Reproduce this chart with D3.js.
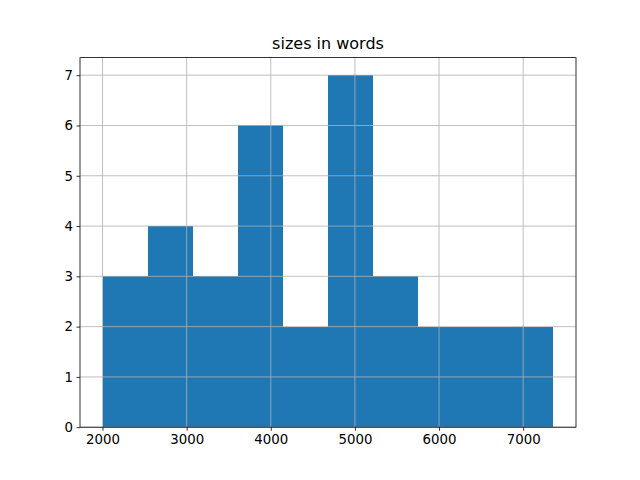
<!DOCTYPE html>
<html>
<head>
<meta charset="utf-8">
<script src="https://cdn.jsdelivr.net/npm/d3@7"></script>
<style>
  body { margin: 0; background: #fff; }
  text { font-family: "DejaVu Sans", sans-serif; fill: #000; }
</style>
</head>
<body>
<div id="chart"></div>
<script>
// histogram data (10 bins)
const dataMin = 2000;
const dataMax = 7360;
const binCounts = [3, 4, 3, 6, 2, 7, 3, 2, 2, 2];
const xTicks = [2000, 3000, 4000, 5000, 6000, 7000];
const yTicks = [0, 1, 2, 3, 4, 5, 6, 7];
const chartTitle = "sizes in words";

const svgWidth = 640;
const svgHeight = 480;
const margin = { top: 57.6, right: 64, bottom: 52.8, left: 80 };
const width = svgWidth - margin.left - margin.right;
const height = svgHeight - margin.top - margin.bottom;

const binWidth = (dataMax - dataMin) / binCounts.length;
const bins = binCounts.map((c, i) => ({
  x0: dataMin + i * binWidth,
  x1: dataMin + (i + 1) * binWidth,
  count: c
}));

const svg = d3.select("#chart")
  .append("svg")
  .attr("width", svgWidth)
  .attr("height", svgHeight);

const chartGroup = svg.append("g")
  .attr("transform", `translate(${margin.left}, ${margin.top})`);

// scales with matplotlib-like 5% margins
const pad = (dataMax - dataMin) * 0.05;
const xScale = d3.scaleLinear()
  .domain([dataMin - pad, dataMax + pad])
  .range([0, width]);

const yScale = d3.scaleLinear()
  .domain([0, d3.max(binCounts) * 1.05])
  .range([height, 0]);

// bars
chartGroup.selectAll("rect.bar")
  .data(bins)
  .enter()
  .append("rect")
  .attr("class", "bar")
  .attr("x", d => xScale(d.x0))
  .attr("width", d => xScale(d.x1) - xScale(d.x0))
  .attr("y", d => yScale(d.count))
  .attr("height", d => yScale(0) - yScale(d.count))
  .attr("fill", "#1f77b4")
  .attr("shape-rendering", "crispEdges");

// grid lines over bars
chartGroup.selectAll("line.vgrid")
  .data(xTicks)
  .enter()
  .append("line")
  .attr("x1", d => xScale(d))
  .attr("x2", d => xScale(d))
  .attr("y1", 0)
  .attr("y2", height)
  .attr("stroke", "#b0b0b0")
  .attr("stroke-width", 0.8);

chartGroup.selectAll("line.hgrid")
  .data(yTicks)
  .enter()
  .append("line")
  .attr("x1", 0)
  .attr("x2", width)
  .attr("y1", d => yScale(d))
  .attr("y2", d => yScale(d))
  .attr("stroke", "#b0b0b0")
  .attr("stroke-width", 0.8);

// axes
const bottomAxis = d3.axisBottom(xScale)
  .tickValues(xTicks)
  .tickFormat(d3.format("d"))
  .tickSize(3.5)
  .tickPadding(3.5)
  .tickSizeOuter(0);

const leftAxis = d3.axisLeft(yScale)
  .tickValues(yTicks)
  .tickFormat(d3.format("d"))
  .tickSize(3.5)
  .tickPadding(3.5)
  .tickSizeOuter(0);

const xAxis = chartGroup.append("g")
  .attr("transform", `translate(0, ${height})`)
  .call(bottomAxis);

const yAxis = chartGroup.append("g")
  .call(leftAxis);

[xAxis, yAxis].forEach(ax => {
  ax.select(".domain").remove();
  ax.selectAll("line").attr("stroke", "#000").attr("stroke-width", 0.8);
  ax.selectAll("text")
    .attr("font-family", "DejaVu Sans, sans-serif")
    .attr("font-size", "13.33px")
    .attr("fill", "#000");
});

// spines
chartGroup.append("rect")
  .attr("x", 0)
  .attr("y", 0)
  .attr("width", width)
  .attr("height", height)
  .attr("fill", "none")
  .attr("stroke", "#000")
  .attr("stroke-width", 0.8);

// title
chartGroup.append("text")
  .attr("x", width / 2)
  .attr("y", -8.5)
  .attr("text-anchor", "middle")
  .attr("font-size", "16px")
  .text(chartTitle);
</script>
</body>
</html>
